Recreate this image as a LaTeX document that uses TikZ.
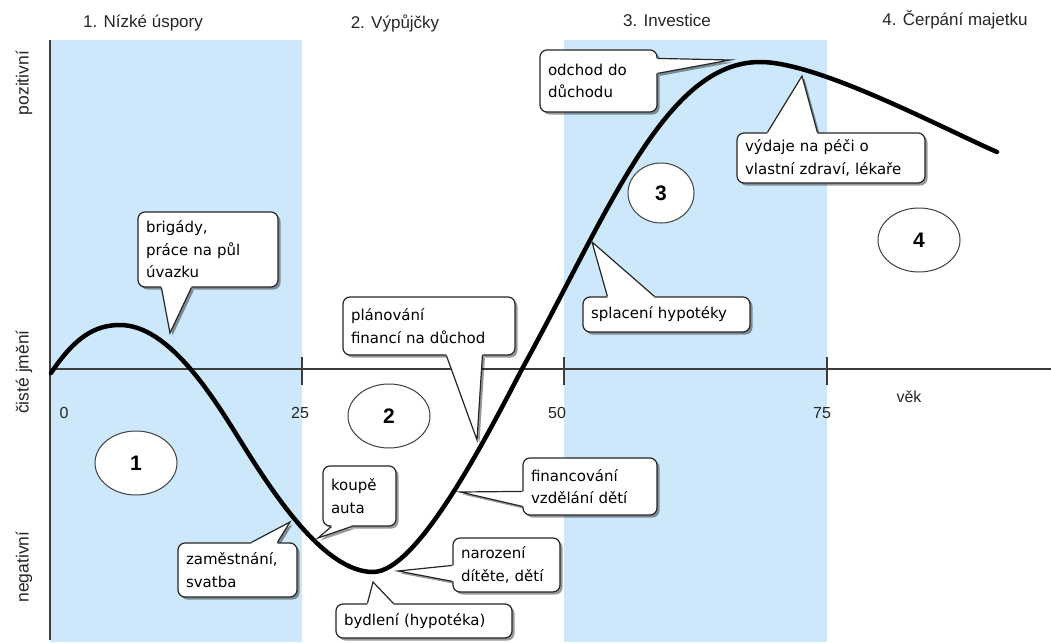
\documentclass[tikz,border=0pt]{standalone}
\usepackage{fontspec}
\setmainfont{Liberation Sans}
\newfontfamily\calfont{DejaVu Sans}
\usetikzlibrary{shapes.geometric,shadows,calc}
\definecolor{bandblue}{RGB}{204,232,250}
\definecolor{axisgray}{RGB}{60,60,60}
\pgfdeclarelayer{bg}
\pgfdeclarelayer{pshad}
\pgfsetlayers{bg,pshad,main}
\newcommand\cptrdraw[4]{%
  \fill[white] ($(#1)+#4$) -- (#1) -- (#2) -- (#3) -- ($(#3)+#4$) -- cycle;
  \draw[pline] (#1) -- (#2) -- (#3);
  \begin{pgfonlayer}{pshad}
    \fill[pshadow] ($(#1)+(2.5,2.5)$) -- ($(#2)+(2.5,2.5)$) -- ($(#3)+(2.5,2.5)$) -- cycle;
  \end{pgfonlayer}}
\begin{document}
\begin{tikzpicture}[x=1pt,y=-1pt,
  band/.style={fill=bandblue,draw=none},
  axisline/.style={draw=axisgray,line width=1.4pt},
  lifecurve/.style={line width=4.5pt,line cap=round,line join=round},
  heading/.style={font=\fontsize{17}{20}\selectfont,inner sep=0pt,text=black!85},
  sidelabel/.style={font=\fontsize{17.5}{20}\selectfont,rotate=90,inner sep=0pt,text=black!85},
  ticklabel/.style={font=\fontsize{16}{19}\selectfont,inner sep=0pt,text=black!85},
  cbox/.style={draw=black!85,line width=1.2pt,fill=white,rounded corners=7pt,
    inner xsep=8pt,inner ysep=3pt,align=left,
    font=\calfont\fontsize{15}{22.5}\selectfont,
    drop shadow={shadow xshift=2.5pt,shadow yshift=-2.5pt,opacity=0.4,fill=black}},
  numell/.style={ellipse,draw=black!75,line width=1pt,fill=white,inner sep=0pt,
    font=\bfseries\fontsize{21}{22}\selectfont},
  pline/.style={draw=black!85,line width=1.2pt,line join=miter},
  pshadow/.style={fill=black,opacity=0.4}
]
\useasboundingbox (0,0) rectangle (1051,642);
\begin{pgfonlayer}{bg}
\fill[white] (0,0) rectangle (1051,642);
% bands
\fill[band] (50,40) rectangle (302,642);
\fill[band] (564,40) rectangle (827,642);
% axes
\draw[axisline] (50,40) -- (50,640);
\draw[axisline] (50,369) -- (1051,369);
\foreach \tx in {302,564,827} \draw[axisline] (\tx,357) -- (\tx,385);
% curve
\draw[lifecurve] (51,373) .. controls (75,337) and (95,325) .. (120,325)
  .. controls (170,325) and (215,400) .. (243,445)
  .. controls (275,496) and (325,572) .. (373,572)
  .. controls (417,572) and (485,440) .. (522,369)
  .. controls (608,213) and (665,62) .. (760,62)
  .. controls (818,62) and (940,127) .. (997,152);
\end{pgfonlayer}

% headings
\node[heading] (h1) at (143,23) {1. Nízké úspory};
\node[heading] (h2) at (395,23) {2. Výpůjčky};
\node[heading] (h3) at (667,20) {3. Investice};
\node[heading] (h4) at (955,20) {4. Čerpání majetku};
% side labels
\node[sidelabel] (pos) at (24,83) {pozitivní};
\node[sidelabel] (cje) at (24,372) {čisté jmění};
\node[sidelabel] (neg) at (24,567) {negativní};
% tick labels
\node[ticklabel] (t0) at (64,413) {0};
\node[ticklabel] (t25) at (300,413) {25};
\node[ticklabel] (t50) at (557,413) {50};
\node[ticklabel] (t75) at (822,413) {75};
\node[ticklabel] (vek) at (909,397) {věk};

% numbered ellipses
\node[numell,minimum width=82pt,minimum height=64pt] (n1) at (136,463) {1};
\node[numell,minimum width=82pt,minimum height=64pt] (n2) at (389,416) {2};
\node[numell,minimum width=66pt,minimum height=60pt] (n3) at (661,193) {3};
\node[numell,minimum width=82pt,minimum height=64pt] (n4) at (919,240) {4};

% pointer tips on the curve
\coordinate (tBrig) at (170,333);
\coordinate (tPlan) at (477,440);
\coordinate (tOdch) at (730,60);
\coordinate (tVyd) at (802,76);
\coordinate (tSpl) at (592,242);
\coordinate (tKoup) at (318,538);
\coordinate (tZam) at (290,522);
\coordinate (tNar) at (398,571);
\coordinate (tByd) at (373,582);
\coordinate (tFin) at (460,492);

% callout boxes
\node[cbox,minimum width=140pt,minimum height=75pt,text width=124pt] (brig) at (208,249.5) {brigády,\\práce na půl\\úvazku};
\node[cbox,minimum width=172pt,minimum height=58pt,text width=156pt] (plan) at (429,326) {plánování\\financí na důchod};
\node[cbox,minimum width=117pt,minimum height=62pt,text width=101pt] (odch) at (598.5,81) {odchod do\\důchodu};
\node[cbox,minimum width=188pt,minimum height=50pt,text width=172pt] (vyd) at (831,158) {výdaje na péči o\\vlastní zdraví, lékaře};
\node[cbox,minimum width=167pt,minimum height=35pt,text width=151pt] (spl) at (666.5,314.5) {splacení hypotéky};
\node[cbox,minimum width=73pt,minimum height=60pt,text width=57pt] (koup) at (359.5,496) {koupě\\auta};
\node[cbox,minimum width=119pt,minimum height=54pt,text width=103pt] (zam) at (237.5,570) {zaměstnání,\\svatba};
\node[cbox,minimum width=107pt,minimum height=54pt,text width=91pt] (nar) at (506.5,565) {narození\\dítěte, dětí};
\node[cbox,minimum width=176pt,minimum height=34pt,text width=160pt] (byd) at (424,621) {bydlení (hypotéka)};
\node[cbox,minimum width=134pt,minimum height=57pt,text width=118pt] (fin) at (590,486.5) {financování\\vzdělání dětí};

% pointer base points
\coordinate (brigA) at ($(brig.south west)+(24,0)$);
\coordinate (brigB) at ($(brig.south west)+(54,0)$);
\coordinate (planA) at ($(plan.south west)+(104,0)$);
\coordinate (planB) at ($(plan.south west)+(140,0)$);
\coordinate (odchA) at ($(odch.north east)+(0,9)$);
\coordinate (odchB) at ($(odch.north east)+(0,24)$);
\coordinate (vydA) at ($(vyd.north west)+(31,0)$);
\coordinate (vydB) at ($(vyd.north west)+(81,0)$);
\coordinate (splA) at ($(spl.north west)+(25,0)$);
\coordinate (splB) at ($(spl.north west)+(72,0)$);
\coordinate (koupA) at ($(koup.south west)+(9,0)$);
\coordinate (koupB) at ($(koup.south west)+(29,0)$);
\coordinate (zamA) at ($(zam.north west)+(74,0)$);
\coordinate (zamB) at ($(zam.north west)+(100,0)$);
\coordinate (narA) at ($(nar.north west)+(0,28)$);
\coordinate (narB) at ($(nar.north west)+(0,44)$);
\coordinate (bydA) at ($(byd.north west)+(32,0)$);
\coordinate (bydB) at ($(byd.north west)+(58,0)$);
\coordinate (finA) at ($(fin.north west)+(0,34)$);
\coordinate (finB) at ($(fin.north west)+(0,49)$);

% pointers
\cptrdraw{brigA}{tBrig}{brigB}{(0,-2.5)}
\cptrdraw{planA}{tPlan}{planB}{(0,-2.5)}
\cptrdraw{odchA}{tOdch}{odchB}{(-2.5,0)}
\cptrdraw{vydA}{tVyd}{vydB}{(0,2.5)}
\cptrdraw{splA}{tSpl}{splB}{(0,2.5)}
\cptrdraw{koupA}{tKoup}{koupB}{(0,-2.5)}
\cptrdraw{zamA}{tZam}{zamB}{(0,2.5)}
\cptrdraw{narA}{tNar}{narB}{(2.5,0)}
\cptrdraw{bydA}{tByd}{bydB}{(0,2.5)}
\cptrdraw{finA}{tFin}{finB}{(2.5,0)}
\end{tikzpicture}
\end{document}
